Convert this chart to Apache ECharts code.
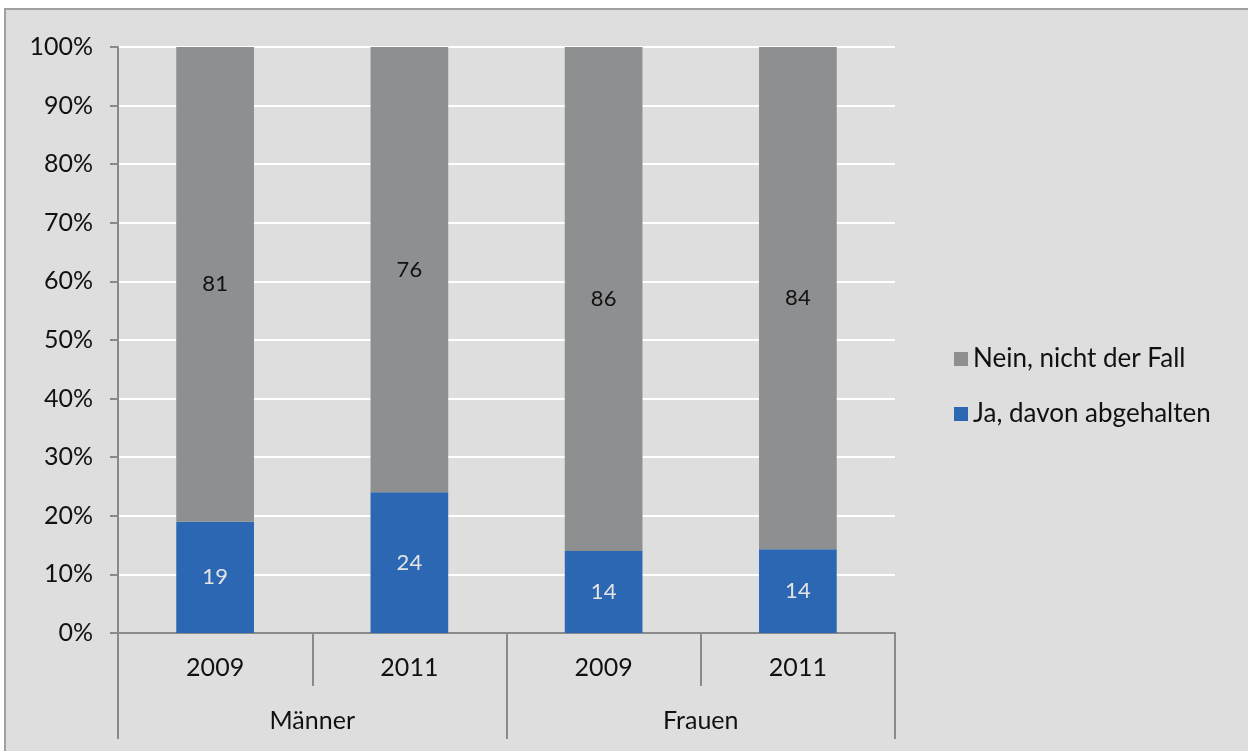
<!DOCTYPE html>
<html>
<head>
<meta charset="utf-8">
<script src="https://cdn.jsdelivr.net/npm/echarts@6/dist/echarts.min.js"></script>
<style>
  html, body { margin: 0; padding: 0; background: #ffffff; }
  #chart { width: 1248px; height: 751px; }
</style>
</head>
<body>
<div id="chart"></div>
<script>
// Category labels: year row and group row
const years = ['2009', '2011', '2009', '2011'];
const groups = ['Männer', 'Frauen'];

// Answers per bar (percent as reported)
const ja = [19, 24, 14, 14];
const nein = [81, 76, 86, 84];

const seriesNames = ['Ja, davon abgehalten', 'Nein, nicht der Fall'];
const yTicks = [0, 10, 20, 30, 40, 50, 60, 70, 80, 90, 100];

// Each bar is drawn as a 100% stack
const totals = ja.map((v, i) => v + nein[i]);
const jaShare = ja.map((v, i) => v / totals[i] * 100);
const neinShare = nein.map((v, i) => v / totals[i] * 100);

const FONT = 'Lato';
const AXIS_COLOR = '#8a8a8a';

const chart = echarts.init(document.getElementById('chart'), null, { renderer: 'canvas' });

chart.setOption({
  animation: false,
  backgroundColor: '#ffffff',
  textStyle: { fontFamily: FONT },
  graphic: [{
    type: 'rect',
    z: -10,
    silent: true,
    shape: { x: 5, y: 9, width: 1260, height: 760 },
    style: { fill: '#dedede', stroke: '#a0a0a0', lineWidth: 2 }
  }],
  grid: { left: 118, right: 353, top: 47, bottom: 118, containLabel: false },
  legend: {
    data: [seriesNames[1], seriesNames[0]],
    orient: 'vertical',
    left: 949,
    top: 341,
    icon: 'rect',
    itemWidth: 14,
    itemHeight: 14,
    itemGap: 29,
    selectedMode: false,
    textStyle: { fontFamily: FONT, fontSize: 26, color: '#111', lineHeight: 26, padding: [0, 0, 0, 0] },
    itemStyle: { borderWidth: 0 }
  },
  xAxis: [{
    type: 'category',
    data: years,
    position: 'bottom',
    axisLine: { show: true, lineStyle: { color: AXIS_COLOR, width: 2 } },
    axisTick: { show: true, length: 53, lineStyle: { color: AXIS_COLOR, width: 2 } },
    axisLabel: { fontFamily: FONT, fontSize: 25, color: '#111', margin: 22 },
    splitLine: { show: false }
  }, {
    type: 'category',
    data: groups,
    position: 'bottom',
    offset: 53,
    axisLine: { show: false },
    axisTick: { show: true, length: 53, lineStyle: { color: AXIS_COLOR, width: 2 } },
    axisLabel: { fontFamily: FONT, fontSize: 25, color: '#111', margin: 22 },
    splitLine: { show: false }
  }],
  yAxis: {
    type: 'value',
    min: yTicks[0],
    max: yTicks[yTicks.length - 1],
    interval: 10,
    axisLine: { show: true, lineStyle: { color: AXIS_COLOR, width: 2 } },
    axisTick: { show: true, length: 8, lineStyle: { color: AXIS_COLOR, width: 2 } },
    axisLabel: { fontFamily: FONT, fontSize: 25, color: '#111', margin: 25, formatter: '{value}%' },
    splitLine: { show: true, lineStyle: { color: '#ffffff', width: 2 } }
  },
  series: [{
    name: seriesNames[0],
    type: 'bar',
    stack: 'total',
    barWidth: '40%',
    data: jaShare,
    itemStyle: { color: '#2b67b2' },
    label: {
      show: true,
      position: 'inside',
      fontFamily: FONT,
      fontSize: 22,
      color: '#e4e4e4',
      formatter: p => String(ja[p.dataIndex])
    }
  }, {
    name: seriesNames[1],
    type: 'bar',
    stack: 'total',
    barWidth: '40%',
    data: neinShare,
    itemStyle: { color: '#8e8f91' },
    label: {
      show: true,
      position: 'inside',
      fontFamily: FONT,
      fontSize: 22,
      color: '#111111',
      formatter: p => String(nein[p.dataIndex])
    }
  }]
});
</script>
</body>
</html>
